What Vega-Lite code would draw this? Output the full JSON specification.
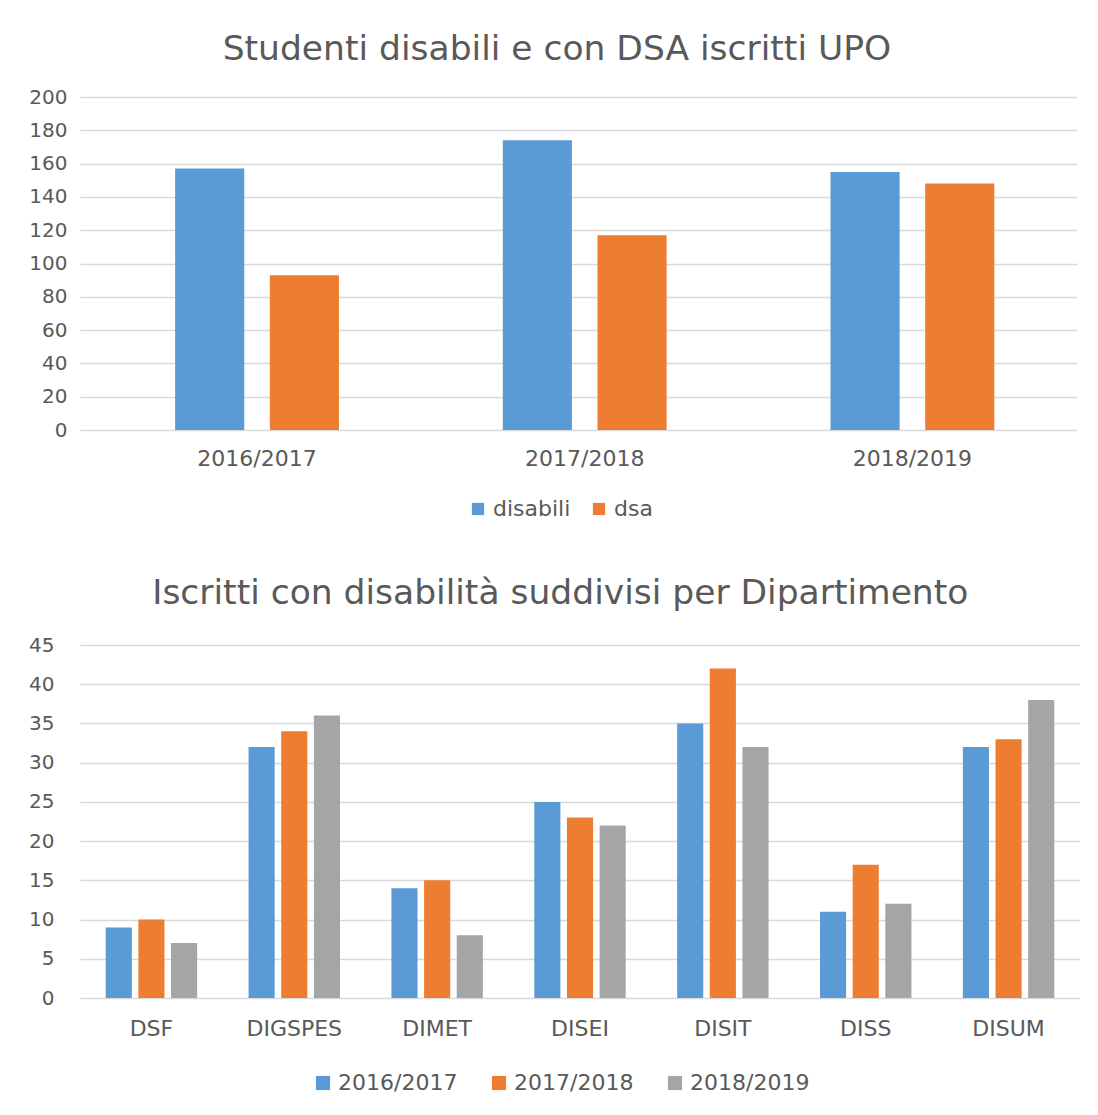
{
  "$schema": "https://vega.github.io/schema/vega-lite/v6.json",
  "background": "white",
  "padding": {"left": 28, "top": 31, "right": 0, "bottom": 0},
  "vconcat": [
    {
      "title": {"text": "Studenti disabili e con DSA iscritti UPO", "offset": 20, "frame": "bounds", "dx": 4},
      "width": 997,
      "height": 333,
      "data": {"values": [
        {"anno": "2016/2017", "tipo": "disabili", "n": 157},
        {"anno": "2016/2017", "tipo": "dsa", "n": 93},
        {"anno": "2017/2018", "tipo": "disabili", "n": 174},
        {"anno": "2017/2018", "tipo": "dsa", "n": 117},
        {"anno": "2018/2019", "tipo": "disabili", "n": 155},
        {"anno": "2018/2019", "tipo": "dsa", "n": 148}
      ]},
      "mark": {"type": "bar"},
      "encoding": {
        "x": {"field": "anno", "type": "nominal", "scale": {"paddingInner": 0.5, "paddingOuter": 0.2713, "align": 0.535},
              "axis": {"labelAngle": 0, "labelFontSize": 22, "labelPadding": 18, "grid": false}},
        "xOffset": {"field": "tipo", "type": "nominal", "scale": {"paddingInner": 0.27}},
        "y": {"field": "n", "type": "quantitative", "scale": {"domain": [0, 200]},
              "axis": {"values": [0, 20, 40, 60, 80, 100, 120, 140, 160, 180, 200], "labelFontSize": 20, "labelPadding": 13}},
        "color": {"field": "tipo", "type": "nominal", "scale": {"domain": ["disabili", "dsa"], "range": ["#5B9BD5", "#ED7D31"]},
                  "legend": {"orient": "none", "legendX": 387, "legendY": 401, "labelFontSize": 22, "symbolSize": 150, "columnPadding": 17, "labelOffset": 4}}
      }
    },
    {
      "title": {"text": "Iscritti con disabilità suddivisi per Dipartimento", "offset": 24, "frame": "bounds", "dx": 6},
      "width": 1000,
      "height": 353,
      "data": {"values": [
        {"dip": "DSF", "anno": "2016/2017", "n": 9},
        {"dip": "DSF", "anno": "2017/2018", "n": 10},
        {"dip": "DSF", "anno": "2018/2019", "n": 7},
        {"dip": "DIGSPES", "anno": "2016/2017", "n": 32},
        {"dip": "DIGSPES", "anno": "2017/2018", "n": 34},
        {"dip": "DIGSPES", "anno": "2018/2019", "n": 36},
        {"dip": "DIMET", "anno": "2016/2017", "n": 14},
        {"dip": "DIMET", "anno": "2017/2018", "n": 15},
        {"dip": "DIMET", "anno": "2018/2019", "n": 8},
        {"dip": "DISEI", "anno": "2016/2017", "n": 25},
        {"dip": "DISEI", "anno": "2017/2018", "n": 23},
        {"dip": "DISEI", "anno": "2018/2019", "n": 22},
        {"dip": "DISIT", "anno": "2016/2017", "n": 35},
        {"dip": "DISIT", "anno": "2017/2018", "n": 42},
        {"dip": "DISIT", "anno": "2018/2019", "n": 32},
        {"dip": "DISS", "anno": "2016/2017", "n": 11},
        {"dip": "DISS", "anno": "2017/2018", "n": 17},
        {"dip": "DISS", "anno": "2018/2019", "n": 12},
        {"dip": "DISUM", "anno": "2016/2017", "n": 32},
        {"dip": "DISUM", "anno": "2017/2018", "n": 33},
        {"dip": "DISUM", "anno": "2018/2019", "n": 38}
      ]},
      "mark": {"type": "bar"},
      "encoding": {
        "x": {"field": "dip", "type": "nominal", "sort": ["DSF", "DIGSPES", "DIMET", "DISEI", "DISIT", "DISS", "DISUM"],
              "scale": {"paddingInner": 0.36, "paddingOuter": 0.18},
              "axis": {"labelAngle": 0, "labelFontSize": 22, "labelPadding": 20, "grid": false}},
        "xOffset": {"field": "anno", "type": "nominal", "scale": {"paddingInner": 0.2}},
        "y": {"field": "n", "type": "quantitative", "scale": {"domain": [0, 45]},
              "axis": {"values": [0, 5, 10, 15, 20, 25, 30, 35, 40, 45], "labelFontSize": 20, "labelPadding": 26}},
        "color": {"field": "anno", "type": "nominal", "scale": {"domain": ["2016/2017", "2017/2018", "2018/2019"], "range": ["#5B9BD5", "#ED7D31", "#A5A5A5"]},
                  "legend": {"orient": "none", "legendX": 232, "legendY": 427, "labelFontSize": 22, "symbolSize": 200, "columnPadding": 30, "labelOffset": 4}}
      }
    }
  ],
  "spacing": 55,
  "resolve": {"scale": {"color": "independent", "x": "independent", "y": "independent", "xOffset": "independent"}, "legend": {"color": "independent"}},
  "config": {
    "font": "DejaVu Sans",
    "view": {"stroke": null},
    "title": {"fontSize": 34.5, "font": "DejaVu Sans", "fontWeight": "normal", "color": "#595959", "anchor": "middle"},
    "axis": {"labelColor": "#595959", "labelFont": "DejaVu Sans", "domain": false, "ticks": false, "title": null, "gridColor": "#D9D9D9", "gridWidth": 1.5},
    "legend": {"labelColor": "#595959", "labelFont": "DejaVu Sans", "symbolType": "square", "symbolStrokeWidth": 0, "title": null, "direction": "horizontal", "padding": 0}
  }
}
